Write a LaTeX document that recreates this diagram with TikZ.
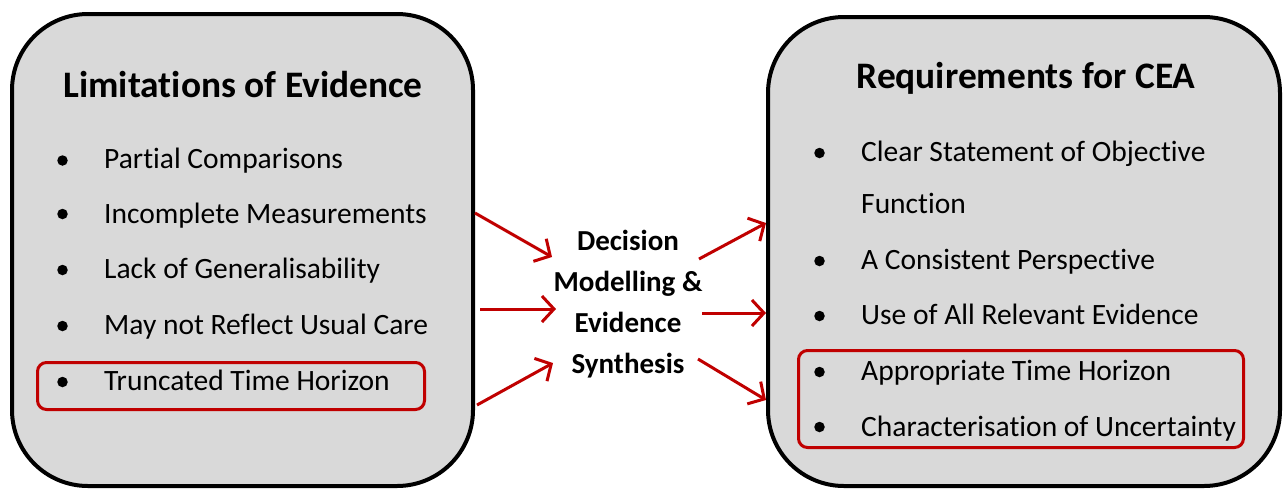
\documentclass[tikz,border=0pt]{standalone}
\usepackage{fontspec}
\setmainfont{Carlito}[Ligatures=NoCommon]
\usetikzlibrary{arrows.meta}
\definecolor{boxgray}{HTML}{D9D9D9}
\definecolor{accent}{HTML}{C00000}
\begin{document}
\begin{tikzpicture}[x=1pt,y=-1pt,
  panel/.style={draw=black, line width=4pt, fill=boxgray, rounded corners=76pt, inner sep=0pt},
  hilite/.style={draw=accent, line width=3pt, rounded corners=9pt, inner sep=0pt},
  heading/.style={anchor=base, inner sep=0pt, font=\bfseries\fontsize{37.4}{42}\selectfont},
  item/.style={anchor=base west, inner sep=0pt, font=\fontsize{29.5}{34}\selectfont},
  dot/.style={circle, fill=black, inner sep=0pt, minimum size=10.5pt},
  centre/.style={align=center, inner sep=0pt, font=\bfseries\fontsize{29}{41}\selectfont},
  flow/.style={draw=accent, line width=3pt, -{Straight Barb[length=12pt,width=26pt]}}]
\useasboundingbox (0,0) rectangle (1285,491);
% panels
\node[panel, minimum width=461pt, minimum height=472pt] (lbox) at (242.5,250) {};
\node[panel, minimum width=512pt, minimum height=469pt] (rbox) at (1024,251.5) {};
% highlight frames
\node[hilite, minimum width=387pt, minimum height=47pt] (lhi) at (231,386) {};
\node[hilite, minimum width=445pt, minimum height=97pt] (rhi) at (1021,399) {};
% headings
\node[heading] (ltitle) at (243,97) {Limitations of Evidence};
\node[heading] (rtitle) at (1026,88) {Requirements for CEA};
% left items
\node[dot] (lb1) at (62.5,160.5) {}; \node[item] (l1) at (104,168) {Partial Comparisons};
\node[dot] (lb2) at (62.5,214) {}; \node[item] (l2) at (104,223) {Incomplete Measurements};
\node[dot] (lb3) at (62.5,270) {}; \node[item] (l3) at (104,278) {Lack of Generalisability};
\node[dot] (lb4) at (62.5,326) {}; \node[item] (l4) at (104,334) {May not Reflect Usual Care};
\node[dot] (lb5) at (62.5,382) {}; \node[item] (l5) at (104,390) {Truncated Time Horizon};
% right items
\node[dot] (rb1) at (819.5,153) {}; \node[item] (r1) at (861,161) {Clear Statement of Objective};
\node[item] (r1b) at (861,213) {Function};
\node[dot] (rb2) at (819.5,261) {}; \node[item] (r2) at (861,269) {A Consistent Perspective};
\node[dot] (rb3) at (819.5,316) {}; \node[item] (r3) at (861,324) {Use of All Relevant Evidence};
\node[dot] (rb4) at (819.5,372) {}; \node[item] (r4) at (861,380) {Appropriate Time Horizon};
\node[dot] (rb5) at (819.5,427) {}; \node[item] (r5) at (861,436) {Characterisation of Uncertainty};
% centre
\node[centre] (model) at (628,304) {Decision\\Modelling \&\\Evidence\\Synthesis};
% arrow ends
\coordinate (i1) at (552,257);
\coordinate (i2) at (556,309);
\coordinate (i3) at (553,363);
\coordinate (o1) at (699,259);
\coordinate (o2) at (702,313);
\coordinate (o3) at (698,359);
\draw[flow] (lbox.east |- 0,213) -- (i1);
\draw[flow] ([xshift=5pt]lbox.east |- i2) -- (i2);
\draw[flow] ([xshift=2pt]lbox.east |- 0,405) -- (i3);
\draw[flow] (o1) -- (rbox.west |- 0,223);
\draw[flow] (o2) -- (rbox.west |- o2);
\draw[flow] (o3) -- (rbox.west |- 0,400);
\end{tikzpicture}
\end{document}
